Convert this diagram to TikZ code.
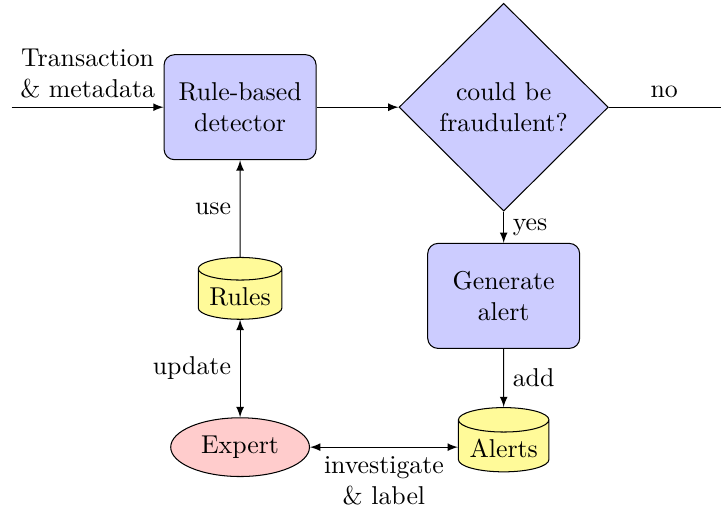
\documentclass[tikz,border=0pt]{standalone}
\usetikzlibrary{shapes.geometric,arrows}
\begin{document}
\begin{tikzpicture}[x=1cm,y=1cm,>=latex,
  procbox/.style={draw, rounded corners, fill=blue!20, align=center,
    minimum width=2.07cm, minimum height=1.43cm},
  decide/.style={draw, diamond, fill=blue!20, align=center, inner sep=0pt,
    minimum width=2.85cm, minimum height=2.83cm},
  store/.style={draw, cylinder, shape border rotate=90, aspect=0.27,
    fill=yellow!40, inner xsep=4.3pt, inner ysep=3.8pt,
    text height=6pt, text depth=0pt},
  person/.style={draw, ellipse, fill=red!20, inner sep=0pt,
    minimum width=1.89cm, minimum height=0.80cm}]
\useasboundingbox (-3.27,1.46) rectangle (6.55,-5.49);
\node[procbox] (detector) at (0,0) {Rule-based\\detector};
\node[decide] (fraud) at (3.59,0) {could be\\fraudulent?};
\node[procbox] (alert) at (3.59,-2.57) {Generate\\alert};
\node[store] (rules) at (0,-2.60) {Rules};
\node[store] (alerts) at (3.59,-4.67) {Alerts};
\node[person] (expert) at (0,-4.63) {Expert};
\coordinate (input) at (-3.11,0);
\coordinate (output) at (6.70,0);
\draw[->] (input) -- (detector) node[midway, above, align=center] {Transaction\\\& metadata};
\draw[->] (detector) -- (fraud);
\draw[->] (fraud) -- (output) node[pos=0.45, above] {no};
\draw[->] (fraud) -- (alert) node[midway, right] {yes};
\draw[->] (alert) -- (alerts) node[midway, right] {add};
\draw[<->] (expert.east) -- (expert.east -| alerts.west) node[midway, below, align=center] {investigate\\\& label};
\draw[<->] (rules) -- (expert) node[midway, left] {update};
\draw[->] (rules) -- (detector) node[midway, left] {use};
\end{tikzpicture}
\end{document}
